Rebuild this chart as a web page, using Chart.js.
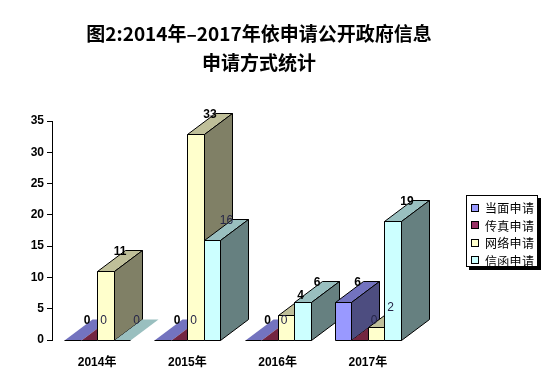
<!DOCTYPE html>
<html>
<head>
<meta charset="utf-8">
<script src="https://cdn.jsdelivr.net/npm/chart.js@4/dist/chart.umd.min.js"></script>
<style>
  html, body { margin: 0; padding: 0; background: #fff; }
  #wrap { position: relative; width: 550px; height: 382px; overflow: hidden; }
  #title { position: absolute; left: 0; top: 18px; width: 518px; text-align: center;
    font: bold 19px "Noto Sans CJK SC", sans-serif; line-height: 29px; color: #000; }
  #legend { position: absolute; left: 466px; top: 195px; width: 72px; height: 72px; box-sizing: border-box;
    border: 1px solid #000; background: #fff; box-shadow: 3px 3px 0 #000; padding-top: 3px; }
  .item { height: 17.5px; display: flex; align-items: center; font: 12px "Noto Sans CJK SC", sans-serif; color: #000; letter-spacing: 0.3px; }
  .sw { width: 6px; height: 6px; border: 1px solid #000; margin-left: 4px; margin-right: 6px; }
</style>
</head>
<body>
<div id="wrap">
  <canvas id="c" width="550" height="382"></canvas>
  <div id="title">图2:2014年–2017年依申请公开政府信息<br>申请方式统计</div>
  <div id="legend"></div>
</div>
<script>
// ---- data ----
const categories = ['2014年', '2015年', '2016年', '2017年'];
const seriesNames = ['当面申请', '传真申请', '网络申请', '信函申请'];
const inPerson = [0, 0, 0, 6];
const byFax = [0, 0, 0, 0];
const online = [11, 33, 4, 2];
const byLetter = [0, 16, 6, 19];
const yMax = 35;
const yStep = 5;

// ---- styles ----
const frontColors = ['#9999FF', '#993366', '#FFFFCC', '#CCFFFF'];
const topColors = ['#7373BF', '#732640', '#BFBF99', '#99BFBF'];
const sideColors = ['#4D4D80', '#4D1A33', '#808066', '#668080'];
const labelFontOnWhite = 'bold 12px "Liberation Sans"';
const labelFontOnBar = '12px "Liberation Sans"';
const labelColorOnWhite = '#000000';
const labelColorOnBar = '#262648';
const DX = 28, DY = 21;

const seriesValues = [inPerson, byFax, online, byLetter];

// legend
const lg = document.getElementById('legend');
seriesNames.forEach((name, i) => {
  const it = document.createElement('div');
  it.className = 'item';
  const sw = document.createElement('span');
  sw.className = 'sw';
  sw.style.background = frontColors[i];
  const tx = document.createElement('span');
  tx.textContent = name;
  it.appendChild(sw); it.appendChild(tx);
  lg.appendChild(it);
});

function poly(pts) {
  const p = new Path2D();
  p.moveTo(pts[0][0], pts[0][1]);
  for (let k = 1; k < pts.length; k++) p.lineTo(pts[k][0], pts[k][1]);
  p.closePath();
  return p;
}

const bars3d = {
  id: 'bars3d',
  afterDatasetsDraw(chart) {
    const ctx = chart.ctx;
    const nd = chart.data.datasets.length;
    const labels = [];
    const faces = [];
    ctx.save();
    ctx.lineWidth = 1;
    ctx.strokeStyle = '#000';
    for (let i = 0; i < chart.data.labels.length; i++) {
      for (let d = 0; d < nd; d++) {
        const el = chart.getDatasetMeta(d).data[i];
        const p = el.getProps(['x', 'y', 'base', 'width'], true);
        const l = Math.round(p.x - p.width / 2) + 0.5;
        const r = Math.round(p.x + p.width / 2) + 0.5;
        const b = Math.round(p.base) + 0.5;
        const t = Math.round(p.y) + 0.5;
        if (b - t > 0.6) {
          const front = poly([[l, t], [r, t], [r, b], [l, b]]);
          const top = poly([[l, t], [r, t], [r + DX, t - DY], [l + DX, t - DY]]);
          const side = poly([[r, t], [r + DX, t - DY], [r + DX, b - DY], [r, b]]);
          ctx.fillStyle = frontColors[d]; ctx.fill(front); ctx.stroke(front);
          ctx.fillStyle = topColors[d]; ctx.fill(top); ctx.stroke(top);
          ctx.fillStyle = sideColors[d]; ctx.fill(side); ctx.stroke(side);
          faces.push(front, top, side);
        } else {
          const floor = poly([[l, b], [r, b], [r + DX, b - DY], [l + DX, b - DY]]);
          ctx.fillStyle = topColors[d]; ctx.fill(floor);
          ctx.beginPath(); ctx.moveTo(l, b); ctx.lineTo(r, b); ctx.stroke();
          faces.push(floor);
        }
        labels.push({ x: (l + r) / 2 + DX / 2, y: t - DY / 2 - 3, text: String(chart.data.datasets[d].data[i]) });
      }
    }
    // label style depends on whether it sits over a bar face or over the white background
    labels.forEach(lb => {
      const sx = lb.x, sy = lb.y - 5;
      lb.onWhite = !faces.some(f => ctx.isPointInPath(f, sx, sy));
    });
    ctx.textAlign = 'center';
    ctx.textBaseline = 'bottom';
    labels.forEach(lb => {
      ctx.font = lb.onWhite ? labelFontOnWhite : labelFontOnBar;
      ctx.fillStyle = lb.onWhite ? labelColorOnWhite : labelColorOnBar;
      ctx.fillText(lb.text, lb.x, lb.y);
    });
    ctx.restore();
  }
};

new Chart(document.getElementById('c'), {
  type: 'bar',
  data: {
    labels: categories,
    datasets: seriesNames.map((name, i) => ({
      label: name,
      data: seriesValues[i],
      backgroundColor: 'rgba(0,0,0,0)',
      borderWidth: 0,
      categoryPercentage: 0.73,
      barPercentage: 1.0
    }))
  },
  options: {
    responsive: false,
    animation: false,
    devicePixelRatio: 1,
    layout: { padding: { top: 121, right: 137, left: 0, bottom: 0 } },
    plugins: { legend: { display: false }, tooltip: { enabled: false }, title: { display: false } },
    scales: {
      x: {
        offset: true,
        grid: { display: false },
        border: { display: false },
        ticks: { color: '#000', font: { family: '"Liberation Sans", "Noto Sans CJK SC"', size: 12, weight: 'bold' }, padding: 7 },
        afterFit(s) { s.height = 42; }
      },
      y: {
        min: 0, max: yMax,
        ticks: { stepSize: yStep, color: '#000', padding: 3, font: { family: '"Liberation Sans"', size: 12, weight: 'bold' } },
        grid: { drawOnChartArea: false, drawTicks: true, tickLength: 5, color: '#000' },
        border: { display: true, color: '#000', width: 1 },
        afterFit(s) { s.width = 52; }
      }
    }
  },
  plugins: [bars3d]
});
</script>
</body>
</html>
